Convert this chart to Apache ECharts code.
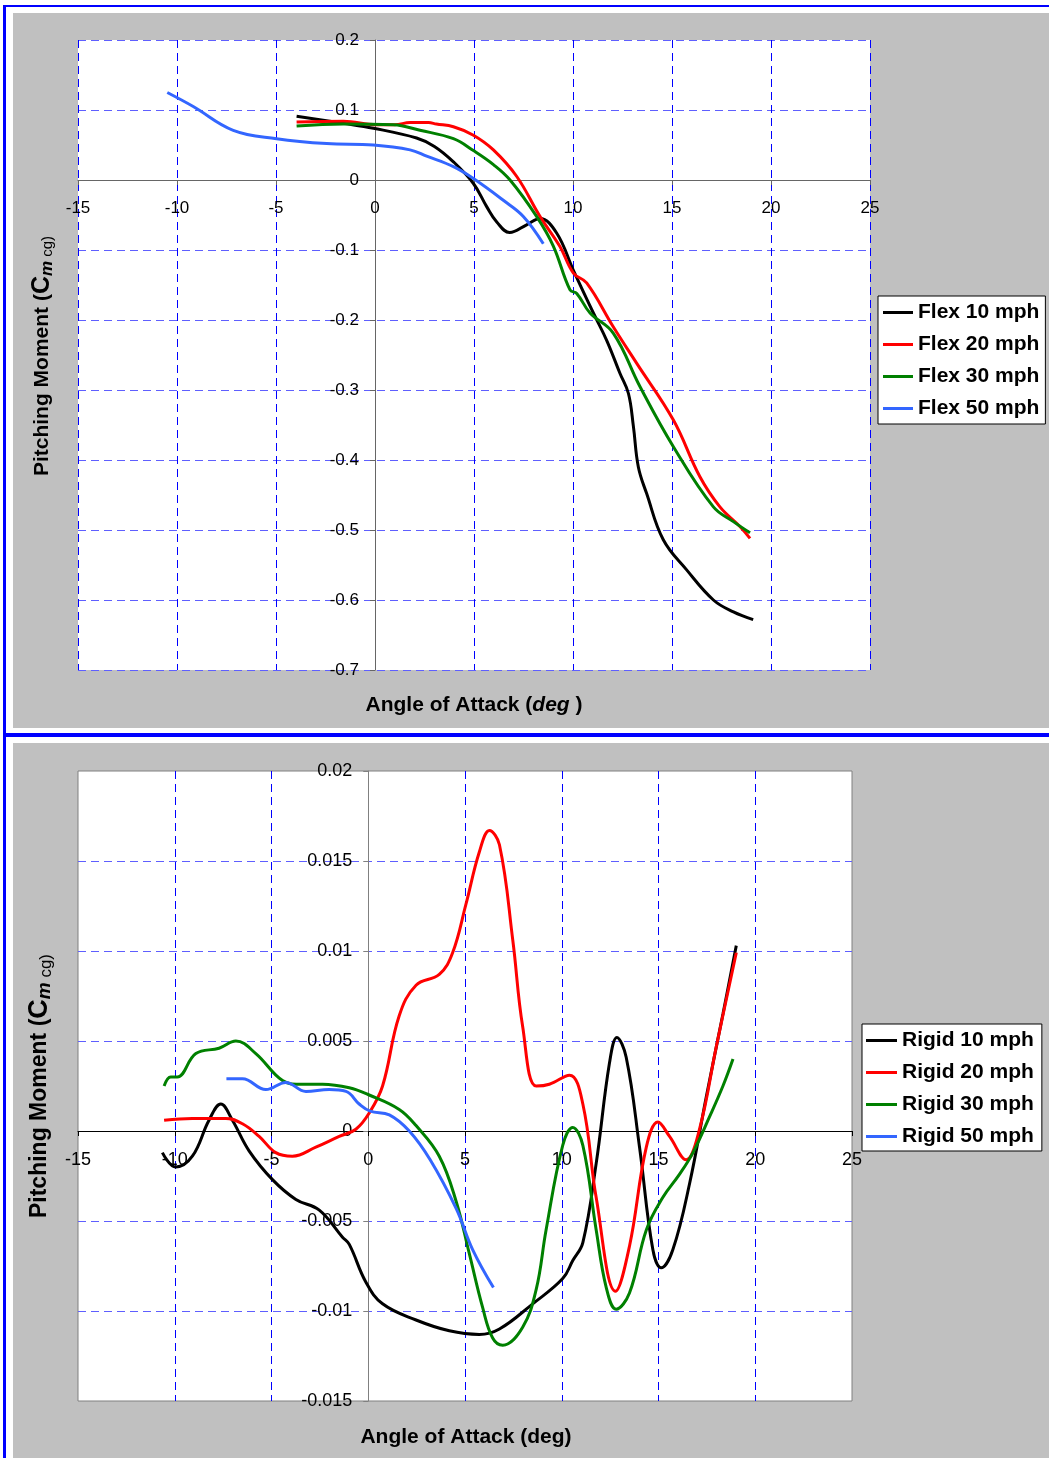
<!DOCTYPE html>
<html>
<head>
<meta charset="utf-8">
<title>Pitching Moment vs Angle of Attack</title>
<script src="https://cdn.jsdelivr.net/npm/echarts@6/dist/echarts.min.js"></script>
<style>
  body { margin: 0; background: #ffffff; }
  .panel { position: absolute; background: #c0c0c0; }
  .rule { position: absolute; background: #0000ff; }
  #chart { position: absolute; left: 0; top: 0; width: 1049px; height: 1458px; }
</style>
</head>
<body>
<div class="rule" style="left:3px;top:5px;width:3px;height:1453px"></div>
<div class="rule" style="left:3px;top:5px;width:1046px;height:2px"></div>
<div class="rule" style="left:3px;top:733px;width:1046px;height:4px"></div>
<div class="panel" style="left:13px;top:13px;width:1036px;height:715px"></div>
<div class="panel" style="left:13px;top:743px;width:1036px;height:715px"></div>
<div id="chart"></div>
<script>
// Series names and colours
const flexNames = ['Flex 10 mph', 'Flex 20 mph', 'Flex 30 mph', 'Flex 50 mph'];
const rigidNames = ['Rigid 10 mph', 'Rigid 20 mph', 'Rigid 30 mph', 'Rigid 50 mph'];
const lineColors = ['#000000', '#ff0000', '#008000', '#3366ff'];

// Axis ranges: [min, max, interval]
const xTicks = [-15, 25, 5];
const flexYTicks = [-0.7, 0.2, 0.1];
const rigidYTicks = [-0.015, 0.02, 0.005];

// Flex wing, [angle, Cm]
const flex10 = [[-3.96, 0.091], [-1.6, 0.081], [-0.08, 0.074], [2.1, 0.06], [3.0, 0.048], [3.96, 0.026],
  [4.97, -0.005], [5.64, -0.038], [6.15, -0.06], [6.8, -0.075], [7.66, -0.064], [8.33, -0.055],
  [9.18, -0.076], [10.02, -0.129], [11.03, -0.19], [11.7, -0.229], [12.37, -0.276], [12.8, -0.305],
  [13.05, -0.352], [13.3, -0.41], [13.72, -0.448], [14.56, -0.514], [15.74, -0.557], [17.09, -0.6],
  [18.1, -0.617], [19.1, -0.628]];
const flex20 = [[-3.96, 0.083], [-1.6, 0.084], [0.08, 0.079], [1.0, 0.079], [1.77, 0.082], [2.7, 0.082],
  [3.1, 0.080], [3.96, 0.076], [4.97, 0.064], [5.98, 0.043], [7.16, 0.005], [8.33, -0.052],
  [9.34, -0.095], [10.02, -0.133], [10.69, -0.147], [12.04, -0.21], [13.22, -0.262], [15.07, -0.343],
  [16.41, -0.424], [17.42, -0.467], [18.43, -0.495], [18.94, -0.512]];
const flex30 = [[-3.96, 0.077], [-1.6, 0.08], [0.93, 0.079], [2.27, 0.071], [3.96, 0.059], [4.97, 0.042],
  [5.98, 0.022], [6.82, 0.0], [8.16, -0.052], [9.0, -0.094], [9.85, -0.157], [10.19, -0.162],
  [10.86, -0.19], [12.04, -0.219], [13.38, -0.295], [15.07, -0.381], [17.09, -0.467], [18.1, -0.488],
  [18.94, -0.504]];
const flex50 = [[-10.49, 0.125], [-9.18, 0.105], [-7.16, 0.071], [-4.97, 0.059], [-2.44, 0.052],
  [-0.08, 0.05], [1.77, 0.043], [2.61, 0.034], [3.96, 0.019], [4.97, 0.002], [6.48, -0.029],
  [7.49, -0.052], [8.5, -0.091]];

// Rigid wing, [angle, Cm]
const rigid10 = [[-10.64, -0.0012], [-9.95, -0.002], [-9.09, -0.0014], [-8.23, 0.0006], [-7.62, 0.0015],
  [-7.02, 0.0006], [-6.16, -0.0011], [-4.95, -0.0027], [-3.74, -0.0038], [-2.53, -0.0044],
  [-1.33, -0.0059], [-0.98, -0.0063], [-0.12, -0.0084], [0.74, -0.0096], [2.47, -0.0105],
  [4.19, -0.0111], [5.74, -0.0113], [6.78, -0.011], [8.5, -0.0096], [10.05, -0.0082], [10.57, -0.0072],
  [11.09, -0.0062], [11.78, -0.0018], [12.47, 0.0038], [12.85, 0.0052], [13.33, 0.0041],
  [14.02, -0.0009], [14.71, -0.0066], [15.14, -0.0076], [15.74, -0.0066], [16.61, -0.0029],
  [17.47, 0.0019], [18.33, 0.0065], [19.02, 0.0103]];
const rigid20 = [[-10.55, 0.0006], [-9.09, 0.0007], [-7.36, 0.0007], [-6.5, 0.0004], [-5.64, -0.0003],
  [-4.78, -0.0012], [-3.92, -0.0014], [-2.71, -0.0009], [-1.5, -0.0003], [-0.64, 0.0001], [0.05, 0.001],
  [0.74, 0.0025], [1.6, 0.0064], [2.47, 0.0081], [3.67, 0.0087], [4.36, 0.0099], [5.05, 0.0126],
  [5.74, 0.0155], [6.26, 0.0167], [6.78, 0.0159], [7.47, 0.0106], [7.98, 0.0058], [8.68, 0.0025],
  [9.36, 0.0026], [10.4, 0.0031], [11.09, 0.0015], [11.78, -0.0037], [12.78, -0.0089], [13.5, -0.0064],
  [14.37, -0.0009], [14.97, 0.0005], [15.57, -0.0003], [16.43, -0.0016], [17.12, 0.0001],
  [17.99, 0.0047], [19.02, 0.0099]];
const rigid30 = [[-10.55, 0.0025], [-10.21, 0.003], [-9.87, 0.003], [-8.91, 0.0043], [-7.71, 0.0046],
  [-6.84, 0.005], [-5.81, 0.0043], [-4.43, 0.0028], [-3.57, 0.0026], [-2.36, 0.0026], [-0.98, 0.0024],
  [0.05, 0.002], [1.6, 0.0012], [2.47, 0.0003], [3.67, -0.0014], [4.54, -0.0039], [5.22, -0.0068],
  [5.91, -0.0098], [6.43, -0.0115], [6.95, -0.0119], [7.98, -0.0109], [8.68, -0.0088], [9.19, -0.0055],
  [10.05, -0.0008], [10.57, 0.0002], [11.09, -0.0008], [11.78, -0.0055], [12.3, -0.0087],
  [12.81, -0.0099], [13.5, -0.009], [14.37, -0.0055], [15.22, -0.0037], [16.09, -0.0024],
  [16.78, -0.0012], [17.64, 0.0008], [18.33, 0.0025], [18.85, 0.004]];
const rigid50 = [[-7.33, 0.0029], [-6.5, 0.0029], [-5.29, 0.0023], [-4.26, 0.0027], [-3.22, 0.0022],
  [-2.02, 0.0023], [-1.15, 0.0022], [-0.47, 0.0015], [0.1, 0.0011], [1.09, 0.0009], [2.12, 0.0],
  [3.2, -0.0016], [4.54, -0.0043], [5.4, -0.0066], [6.47, -0.0087]];

const FONT = '"Liberation Sans", Arial, sans-serif';

// Plot areas
const flexGrid = { left: 78, top: 40, width: 792, height: 630 };
const rigidGrid = { left: 78, top: 771, width: 774, height: 630 };

// Distance (negative) from the grid edge to the value zero, so the axis sits on zero
function zeroOffset(size, ticks) {
    return -size * (0 - ticks[0]) / (ticks[1] - ticks[0]);
}

function makeXAxis(gridIndex, edges, fontSize, lineColor, offset) {
    return {
        type: 'value',
        gridIndex: gridIndex,
        position: 'bottom',
        offset: offset,
        min: xTicks[0],
        max: xTicks[1],
        interval: xTicks[2],
        axisLine: { onZero: false, lineStyle: { color: lineColor, width: 1 } },
        axisTick: { show: true, length: 5, lineStyle: { color: lineColor } },
        axisLabel: { color: '#000', fontSize: fontSize, fontFamily: FONT, margin: 20 },
        splitLine: {
            show: true,
            showMinLine: edges,
            showMaxLine: edges,
            lineStyle: { color: '#0000ff', type: [8, 5], width: 1 }
        }
    };
}

function makeYAxis(gridIndex, ticks, edges, fontSize, lineColor, offset) {
    return {
        type: 'value',
        gridIndex: gridIndex,
        position: 'left',
        offset: offset,
        min: ticks[0],
        max: ticks[1],
        interval: ticks[2],
        axisLine: { onZero: false, lineStyle: { color: lineColor, width: 1 } },
        axisTick: { show: true, length: 5, lineStyle: { color: lineColor } },
        axisLabel: { color: '#000', fontSize: fontSize, fontFamily: FONT, margin: 16 },
        splitLine: {
            show: true,
            showMinLine: edges,
            showMaxLine: edges,
            lineStyle: { color: '#5f5fff', type: [8, 5], width: 1 }
        }
    };
}

function makeSeries(name, data, color, axisIndex) {
    return {
        name: name,
        type: 'line',
        xAxisIndex: axisIndex,
        yAxisIndex: axisIndex,
        data: data,
        smooth: 0.4,
        symbol: 'none',
        lineStyle: { color: color, width: 3 },
        itemStyle: { color: color }
    };
}

function makeLegend(names, left, top, padding, iconWidth) {
    return {
        data: names,
        orient: 'vertical',
        left: left,
        top: top,
        padding: padding,
        itemGap: 11,
        itemWidth: iconWidth,
        itemHeight: 3,
        icon: 'rect',
        backgroundColor: '#ffffff',
        borderColor: '#000000',
        borderWidth: 1,
        borderRadius: 0,
        textStyle: { color: '#000', fontSize: 21, fontWeight: 'bold', fontFamily: FONT, lineHeight: 20 }
    };
}

function titleText(x, y, text, rich, rotate) {
    return {
        type: 'text',
        x: x,
        y: y,
        z: 100,
        rotation: rotate ? Math.PI / 2 : 0,
        style: { text: text, rich: rich, align: 'center', verticalAlign: 'middle', fill: '#000' }
    };
}

function yTitleRich(size) {
    return {
        a: { fontSize: size, fontWeight: 'bold', fontFamily: FONT, lineHeight: size + 6, verticalAlign: 'middle' },
        c: { fontSize: size + 4, fontWeight: 'bold', fontFamily: FONT, lineHeight: size + 6, verticalAlign: 'middle' },
        m: { fontSize: size - 4, fontWeight: 'bold', fontStyle: 'italic', fontFamily: FONT, verticalAlign: 'bottom' },
        s: { fontSize: size - 6, fontFamily: FONT, verticalAlign: 'bottom' }
    };
}

const xTitleRich = {
    b: { fontSize: 21, fontWeight: 'bold', fontFamily: FONT },
    i: { fontSize: 21, fontWeight: 'bold', fontStyle: 'italic', fontFamily: FONT }
};

const chart = echarts.init(document.getElementById('chart'));

const series = [];
[flex10, flex20, flex30, flex50].forEach(function (d, i) {
    series.push(makeSeries(flexNames[i], d, lineColors[i], 0));
});
[rigid10, rigid20, rigid30, rigid50].forEach(function (d, i) {
    series.push(makeSeries(rigidNames[i], d, lineColors[i], 1));
});

const option = {
    animation: false,
    backgroundColor: 'transparent',
    grid: [
        Object.assign({ show: true, backgroundColor: '#ffffff', borderWidth: 0 }, flexGrid),
        Object.assign({ show: true, backgroundColor: '#ffffff', borderColor: '#808080', borderWidth: 1 }, rigidGrid)
    ],
    xAxis: [
        makeXAxis(0, true, 17, '#666666', zeroOffset(flexGrid.height, flexYTicks)),
        makeXAxis(1, false, 18, '#000000', zeroOffset(rigidGrid.height, rigidYTicks))
    ],
    yAxis: [
        makeYAxis(0, flexYTicks, true, 17, '#666666', zeroOffset(flexGrid.width, xTicks)),
        makeYAxis(1, rigidYTicks, false, 18, '#808080', zeroOffset(rigidGrid.width, xTicks))
    ],
    legend: [
        makeLegend(flexNames, 878, 296, [6, 6, 5, 5], 30),
        makeLegend(rigidNames, 862, 1024, [6, 8, 4, 4], 31)
    ],
    graphic: [
        titleText(474, 705, '{b|Angle of Attack (}{i|deg}{b| )}', xTitleRich, false),
        titleText(466, 1437, '{b|Angle of Attack (deg)}', xTitleRich, false),
        titleText(42, 356, '{a|Pitching Moment (}{c|C}{m|m}{s| cg)}', yTitleRich(21), true),
        titleText(40, 1086, '{a|Pitching Moment (}{c|C}{m|m}{s| cg)}', yTitleRich(23), true)
    ],
    series: series
};

chart.setOption(option);
</script>
</body>
</html>
